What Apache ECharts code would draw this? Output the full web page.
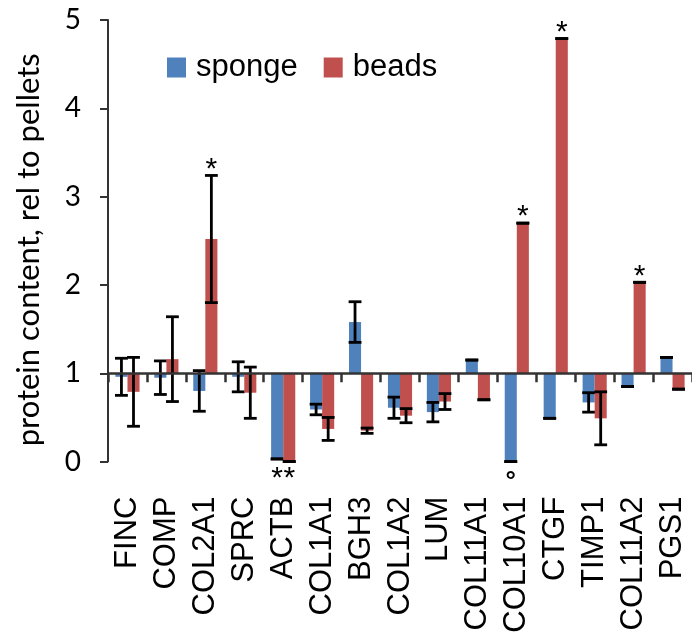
<!DOCTYPE html>
<html>
<head>
<meta charset="utf-8">
<script src="https://cdn.jsdelivr.net/npm/echarts@6/dist/echarts.min.js"></script>
<style>
html,body{margin:0;padding:0;background:#fff;}
#chart{width:692px;height:636px;}
</style>
</head>
<body>
<div id="chart"></div>
<script>
const categories = ['FINC','COMP','COL2A1','SPRC','ACTB','COL1A1','BGH3','COL1A2','LUM','COL11A1','COL10A1','CTGF','TIMP1','COL11A2','PGS1'];
const sponge    = [0.96, 0.95, 0.80, 0.96, 0.03, 0.59, 1.58, 0.61, 0.56, 1.15, 0.00, 0.49, 0.67, 0.85, 1.18];
const spongeErr = [0.21, 0.19, 0.23, 0.17, 0.00, 0.06, 0.23, 0.12, 0.11, 0.00, 0.00, 0.00, 0.11, 0.00, 0.00];
const beads     = [0.79, 1.16, 2.52, 0.78, 0.00, 0.37, 0.35, 0.52, 0.68, 0.70, 2.70, 4.79, 0.49, 2.03, 0.82];
const beadsErr  = [0.39, 0.48, 0.72, 0.29, 0.00, 0.13, 0.03, 0.08, 0.09, 0.00, 0.00, 0.00, 0.30, 0.00, 0.00];
const spongeMarks = ['', '', '', '', '*', '', '', '', '', '', '°', '', '', '', ''];
const beadsMarks  = ['', '', '*', '', '*', '', '', '', '', '', '*', '*', '', '*', ''];
const yTicks = [0, 1, 2, 3, 4, 5];
const baseline = 1;

const BLUE = '#4F81BD', RED = '#C0504D';
const gridTop = 20, gridBottom = 174.4;
const chartH = 636;

function makeRender(side, color, errs, marks) {
  return function (params, api) {
    const i = params.dataIndex;
    const idx = api.value(0), v = api.value(1), e = errs[i];
    const catW = api.size([1, 0])[0];
    const base = api.coord([idx, baseline]);
    const bw = catW * 0.31;
    const cx = base[0] + side * bw / 2;
    const yv = api.coord([idx, v])[1];
    const yTop = api.coord([idx, v + e])[1];
    const yBot = api.coord([idx, v - e])[1];
    const yMin = api.coord([idx, yTicks[0]])[1];
    const capW = catW * 0.33;
    const ls = { stroke: '#000', lineWidth: 2.8 };
    const children = [
      { type: 'rect', shape: { x: cx - bw / 2, y: Math.min(base[1], yv), width: bw, height: Math.abs(yv - base[1]) }, style: { fill: color } }
    ];
    if (e > 0) {
      children.push({ type: 'line', shape: { x1: cx, y1: yTop, x2: cx, y2: yBot }, style: ls });
    }
    children.push({ type: 'line', shape: { x1: cx - capW / 2, y1: yTop, x2: cx + capW / 2, y2: yTop }, style: ls });
    children.push({ type: 'line', shape: { x1: cx - capW / 2, y1: yBot, x2: cx + capW / 2, y2: yBot }, style: ls });
    const m = marks[i];
    if (m) {
      const above = v >= baseline;
      const isDeg = m === '°';
      children.push({
        type: 'text',
        style: {
          text: m, x: cx, y: above ? yTop - 6 : yMin + (isDeg ? 20 : 17),
          align: 'center', verticalAlign: 'middle',
          fontFamily: 'Liberation Sans, Arial, sans-serif', fontSize: isDeg ? 26 : 30,
          fontWeight: isDeg ? 'bold' : 'normal', fill: '#000'
        }
      });
    }
    return { type: 'group', children: children };
  };
}

const chart = echarts.init(document.getElementById('chart'));
const gridH = chartH - gridTop - gridBottom;
const axisOffset = -gridH * (baseline - yTicks[0]) / (yTicks[yTicks.length - 1] - yTicks[0]);

chart.setOption({
  animation: false,
  backgroundColor: '#fff',
  grid: { left: 108, right: 0, top: gridTop, bottom: gridBottom, containLabel: false },
  legend: {
    left: 167, top: 52, padding: 0,
    icon: 'rect', itemWidth: 19, itemHeight: 20, itemGap: 26,
    textStyle: { fontFamily: 'Liberation Sans, Arial, sans-serif', fontSize: 31, color: '#000', padding: [0, 0, 0, 5] },
    data: ['sponge', 'beads']
  },
  xAxis: [
    {
      type: 'category', data: categories, position: 'bottom',
      axisLine: { show: false }, axisTick: { show: false },
      axisLabel: { rotate: 90, margin: 35, interval: 0, fontFamily: 'Liberation Sans, Arial, sans-serif', fontSize: 31, color: '#000' }
    },
    {
      type: 'category', data: categories, position: 'bottom', offset: axisOffset, z: 10,
      axisLine: { show: true, lineStyle: { color: '#333', width: 2.5 } },
      axisTick: { show: true, inside: false, length: 9, alignWithLabel: false, interval: 0, lineStyle: { color: '#333', width: 2.5 } },
      axisLabel: { show: false }
    }
  ],
  yAxis: {
    type: 'value', min: yTicks[0], max: yTicks[yTicks.length - 1], interval: 1,
    name: 'protein content, rel to pellets', nameLocation: 'middle', nameGap: 64,
    nameTextStyle: { fontFamily: 'Lato, sans-serif', fontSize: 31, color: '#000', padding: [0, 18, 0, 0] },
    axisLine: { show: true, lineStyle: { color: '#333', width: 2 } },
    axisTick: { show: true, inside: false, length: 8, lineStyle: { color: '#333', width: 2 } },
    axisLabel: { margin: 27, fontFamily: 'Lato, sans-serif', fontSize: 28, color: '#000' },
    splitLine: { show: false }
  },
  series: [
    {
      name: 'sponge', type: 'custom', xAxisIndex: 0, itemStyle: { color: BLUE },
      encode: { x: 0, y: 1 },
      renderItem: makeRender(-1, BLUE, spongeErr, spongeMarks),
      data: sponge.map((v, i) => [i, v])
    },
    {
      name: 'beads', type: 'custom', xAxisIndex: 0, itemStyle: { color: RED },
      encode: { x: 0, y: 1 },
      renderItem: makeRender(1, RED, beadsErr, beadsMarks),
      data: beads.map((v, i) => [i, v])
    }
  ]
});
</script>
</body>
</html>
